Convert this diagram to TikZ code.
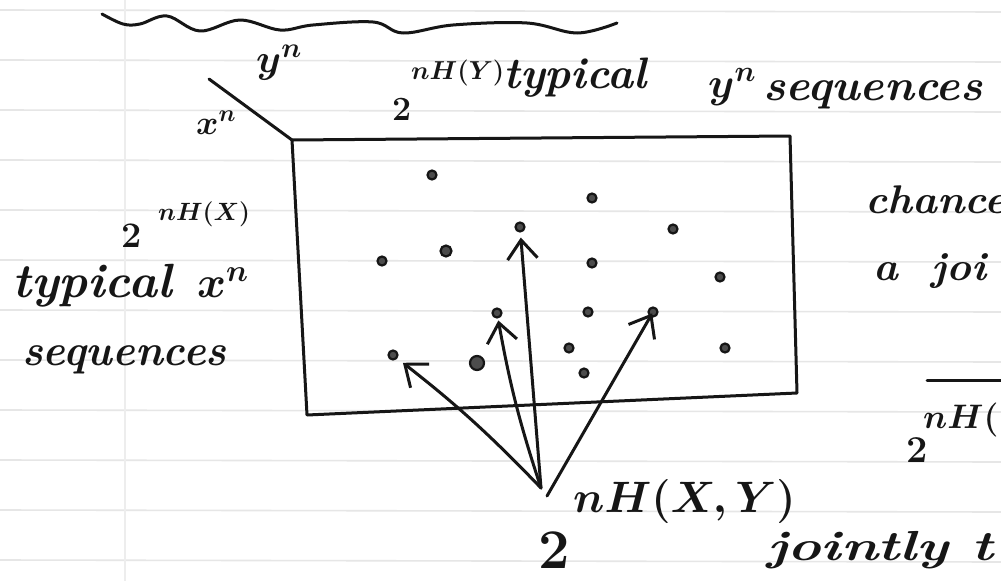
\RequirePackage{fix-cm}
\documentclass[tikz,border=0pt]{standalone}
\usepackage{graphicx}
\usetikzlibrary{arrows.meta}
\newcommand{\hwx}[2]{\scalebox{#1}[1]{#2}}
\definecolor{ink}{HTML}{161616}
\definecolor{rulegray}{HTML}{E6E6E6}
\begin{document}
\begin{tikzpicture}[x=1pt,y=-1pt]
\tikzset{
  pen/.style={draw=ink, line width=3pt, line cap=round, line join=round},
  dotp/.style={circle, draw=ink, line width=2.2pt, fill=black!70, inner sep=0pt, minimum size=9pt},
  arr/.style={pen, -{Straight Barb[length=19pt,width=30pt,line width=3pt]}},
  txt/.style={inner sep=0pt, anchor=base west, text=ink},
  cur/.style={font=\fontsize{44}{50}\selectfont\bfseries\itshape},
  mth/.style={font=\fontsize{#1}{#1}\selectfont\boldmath\bfseries},
  paper/.style={draw=rulegray, line width=1.6pt}
}
\useasboundingbox (0,0) rectangle (1001,581);
\fill[white] (0,0) rectangle (1001,581);
\clip (0,0) rectangle (1001,581);
% ruled paper
\foreach \yy in {10,60,...,560} \draw[paper] (0,\yy) -- (1001,\yy+2);
\draw[draw=rulegray!70, line width=1.2pt] (125,0) -- (125,581);

% wavy heading line
\draw[pen] plot[smooth, tension=0.6] coordinates {(102,14) (123,24) (140,24) (167,16) (200,31) (240,20) (280,30) (313,25) (373,22) (403,33) (453,25) (527,23) (577,33) (617,23)};

% table box and corner diagonal
\draw[pen] (292,140) -- (790,136) -- (797,393) -- (307,415) -- cycle;
\draw[pen] (209,79) -- (292,140);

% labels of corner
\node[txt,mth=40] (ylab) at (256,72) {$y^n$};
\node[txt,mth=34] (xlab) at (196,134) {$x^n$};

% top label
\node[txt,mth=34] (twoY) at (392,120) {2};
\node[txt,mth=26] (expY) at (411,79) {$nH(Y)$};
\node[txt,cur] (typY) at (503,88) {\hwx{1.0}{typical}};
\node[txt,mth=42] (yn) at (708,97) {$y^n$};
\node[txt,cur] (seqY) at (763,100) {\hwx{1.04}{sequences}};

% left label
\node[txt,mth=36] (twoX) at (121,247) {2};
\node[txt,mth=25] (expX) at (158,220) {$nH(X)$};
\node[txt,font=\fontsize{48}{56}\selectfont\bfseries\itshape] (typX) at (12,297) {\hwx{1.02}{typical}};
\node[txt,mth=44] (xn) at (197,297) {$x^n$};
\node[txt,cur] (seqX) at (22,365) {\hwx{0.97}{sequences}};

% dots in the box
\node[dotp] (d1) at (432,175) {};
\node[dotp] (d2) at (592,198) {};
\node[dotp] (d3) at (520,227) {};
\node[dotp] (d4) at (673,229) {};
\node[dotp] (d5) at (382,261) {};
\node[dotp, minimum size=11pt] (d6) at (446,251) {};
\node[dotp] (d7) at (592,263) {};
\node[dotp] (d8) at (720,277) {};
\node[dotp] (d9) at (497,313) {};
\node[dotp] (d10) at (588,312) {};
\node[dotp] (d11) at (653,312) {};
\node[dotp] (d12) at (393,355) {};
\node[dotp, minimum size=14pt] (d13) at (477,363) {};
\node[dotp] (d14) at (569,348) {};
\node[dotp] (d15) at (584,373) {};
\node[dotp] (d16) at (725,348) {};

% arrows
\coordinate (O) at (541,488);
\coordinate (O2) at (547,496);
\draw[arr, shorten >=7pt] (O) to[bend right=4] (d12);
\draw[arr, shorten >=2pt] (O) to[bend left=4] (d9);
\draw[arr, shorten >=5pt] (O) -- (d3);
\draw[arr, shorten >=-4pt] (O2) -- (d11);

% bottom label
\node[txt,mth=56] (twoXY) at (538,568) {2};
\node[txt,mth=44] (expXY) at (573,512) {$nH(X,Y)$};

% right side (cut off)
\node[txt,font=\fontsize{40}{44}\selectfont\bfseries\itshape] (chance) at (865,213) {\hwx{1.05}{chance}};
\node[txt,font=\fontsize{40}{44}\selectfont\bfseries\itshape] (ajoi) at (873,280) {\hwx{1.05}{a\hspace{0.8em}joi}};
\coordinate (barL) at (927,380);
\coordinate (barR) at (1001,380);
\draw[pen] (barL) -- (barR);
\node[txt,mth=38] (twoR) at (906,462) {2};
\node[txt,mth=34] (expR) at (923,428) {$nH($};
\node[txt,font=\fontsize{42}{46}\selectfont\bfseries\itshape] (jointly) at (767,560) {\hwx{1.35}{jointly t}};
\end{tikzpicture}
\end{document}
